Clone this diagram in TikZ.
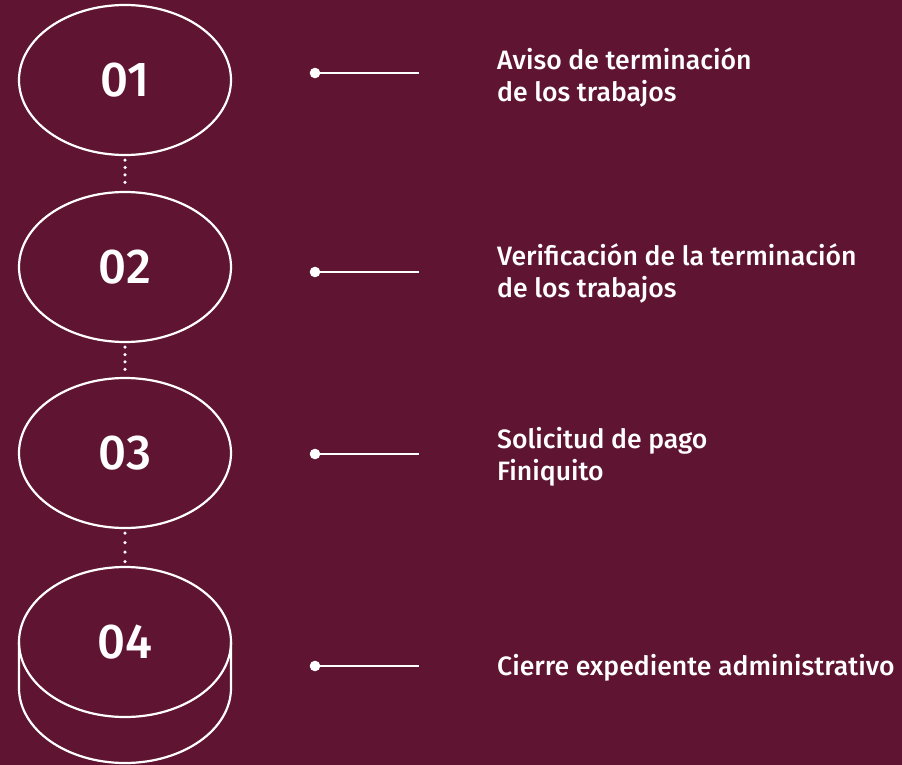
\documentclass[tikz,border=0pt]{standalone}
\usepackage{fontspec}
\setmainfont{Fira Sans}[UprightFont=* Medium]
\usetikzlibrary{shapes.geometric}
\definecolor{vino}{HTML}{5F1431}
\tikzset{
  paso/.style={ellipse, draw=white, line width=2.2pt, minimum width=212pt,
    minimum height=150pt, inner sep=0pt, text=white,
    font=\fontsize{49}{49}\selectfont},
  puntos/.style={white, line width=3.5pt, line cap=round,
    dash pattern=on 0pt off 7.4pt, shorten <=4pt, shorten >=3pt},
  guia/.style={white, line width=2pt},
  texto/.style={text=white, anchor=base west, align=left, inner sep=0pt,
    font=\fontsize{26.6}{32}\selectfont}
}
\begin{document}
\begin{tikzpicture}[x=1pt,y=-1pt]
      \fill[vino] (0,0) rectangle (902,765);
      \useasboundingbox (0,0) rectangle (902,765);
      % base of the last step
      \draw[white, line width=2.2pt] (19,642) -- (19,688)
        arc[start angle=180, end angle=0, x radius=106, y radius=75] -- (231,642);
      \draw
        (125,80) node[paso] (p1) {01}
        (125,267) node[paso] (p2) {02}
        (125,453) node[paso] (p3) {03}
        (125,642) node[paso] (p4) {04};
      \begin{scope}[puntos]
        \draw (p1) to (p2);
        \draw (p2) to (p3);
        \draw[dash pattern=on 0pt off 9.5pt] (p3) to (p4);
      \end{scope}
      \path
        (315,73) coordinate (a1) (419,73) coordinate (b1)
        (315,272) coordinate (a2) (419,272) coordinate (b2)
        (315,454) coordinate (a3) (419,454) coordinate (b3)
        (315,666) coordinate (a4) (419,666) coordinate (b4);
      \begin{scope}[guia]
        \draw (a1) to (b1);
        \draw (a2) to (b2);
        \draw (a3) to (b3);
        \draw (a4) to (b4);
        \fill (a1) circle (5.3pt) (a2) circle (5.3pt)
          (a3) circle (5.3pt) (a4) circle (5.3pt);
      \end{scope}
      % base is the last line
      \node[texto] (t1) at (497,102) {Aviso de terminación\\de los trabajos};
      \node[texto] (t2) at (497,297) {Verificación de la terminación\\de los trabajos};
      \node[texto] (t3) at (497,480) {Solicitud de pago\\Finiquito};
      \node[texto] (t4) at (497,675) {Cierre expediente administrativo};
    \end{tikzpicture}
\end{document}
